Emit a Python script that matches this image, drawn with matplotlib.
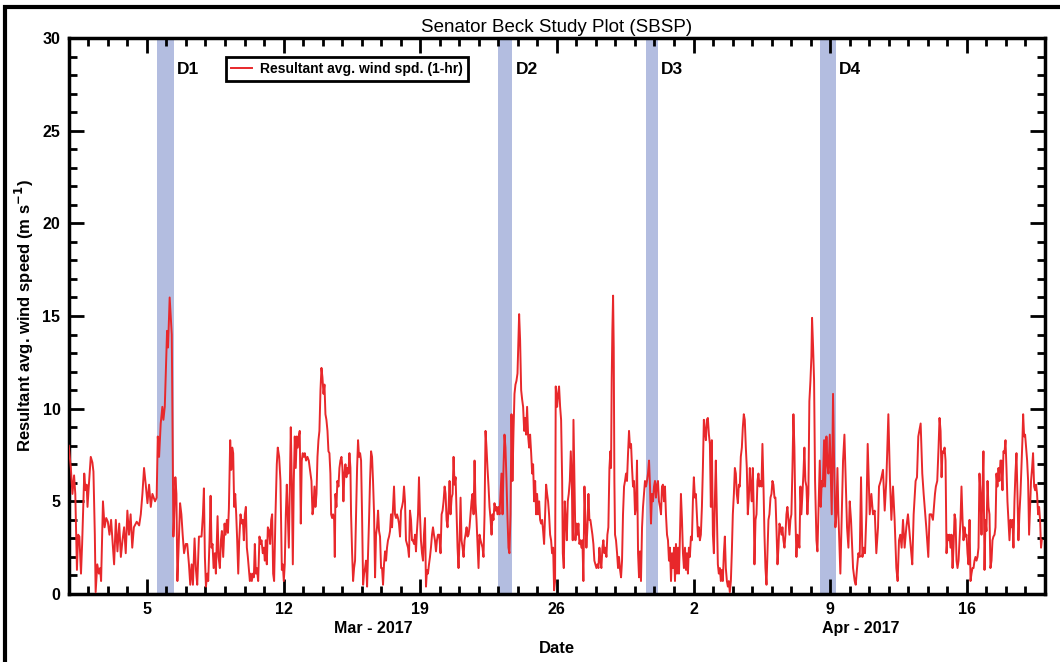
import matplotlib
matplotlib.use("Agg")
import matplotlib.pyplot as plt
import matplotlib.dates as mdates
from matplotlib.ticker import MultipleLocator, FuncFormatter, FixedLocator
from matplotlib.patches import Rectangle
import pandas as pd
import datetime as dt

plt.rcParams['font.family'] = ['Liberation Sans', 'DejaVu Sans']

# ---- data: hours since 2017-03-01 00:00 and resultant avg wind speed (m/s)
hours = [
 0, 2.5, 4.5, 6.5, 8, 10, 11.5, 13, 15, 16.4, 19, 20.5, 22, 23, 25, 27, 29, 30.3, 32, 33, 35, 37, 38.5, 39.7,
 42, 44, 46, 48, 50, 52, 54, 55.7, 57.8, 59.8, 62, 64, 66, 68, 70, 72, 74, 76, 78, 80, 83.5, 86.5, 88.5, 90.5,
 92.5, 94.6, 96.7, 98.7, 100.8, 102.8, 106, 108, 109.4, 111, 113, 115, 116.3, 118, 119.6, 120.8, 122, 123.3,
 124, 125.3, 126.6, 127.4, 128.6, 129.8, 131, 132.3, 133.5, 135, 136.8, 138.4, 140, 141.7, 143.8,
 145.6, 147.7, 149.3, 151, 152.6, 154.6, 156.3, 157.9, 160, 161.6, 163.2, 164.9, 166.1, 167.3, 168.6, 170.2,
 171.4, 173, 174.3, 175.5, 176.7, 178, 179.6, 180.8, 182.9, 184.1, 185.7, 187, 188.2, 189.8, 191.5, 192.7,
 194.3, 195.6, 196.8, 198.4, 199.7, 200.9, 202.1, 203.3, 204.6, 205.8, 207, 208.3, 209.5, 211.1, 212.8, 214,
 215.2, 216.4, 217.7, 218.9, 220.1, 221.3, 222.6, 223.8, 225, 226.3, 227.5, 228.7, 230, 231.2, 232.8, 234.4,
 235.7, 236.9, 238.5, 239.8, 241, 242.2, 243.4, 244.7, 246.3, 247.5, 248.8, 250, 251.2, 252.4, 254.1, 255.7,
 256.9, 258.6, 260.2, 261.9, 263.1, 264.3, 265.5, 266.8, 268, 269.2, 270.5, 271.7, 272.9, 274.1, 275.4, 276.6,
 277.8, 279, 280.3, 281.5, 282.7, 283.9, 285.2, 286.4, 287.6, 288.9, 290.1, 291.7, 293.4, 295, 296.2,
 298.3, 299.6, 300.8, 302, 303.2, 304.5, 305.7, 306.9, 308.1, 309.4, 310.6, 311.8, 313.1, 314.3, 315.5, 316.7,
 318, 319.2, 320.4, 321.6, 322.5, 323.7, 324.9, 326.2, 327, 327.8, 329, 330.2, 331.5, 332.7, 333.9, 335.2,
 336.4, 337.6, 338.8, 340.1, 341.3, 342.5, 343.7, 345, 346.2, 347, 348.3, 349.5, 350.7, 351.9, 353.2, 354.4,
 355.6, 356.8, 358.1, 359.3, 360.5, 361.8, 363, 364.2, 365.4, 366.7, 367.9, 369.1, 370.3, 371.6, 372.8, 374,
 375.3, 376.5, 377.7, 378.9, 380.2, 381.4, 382.6, 383.9, 385.1, 386.3, 387.5, 388.8, 390, 391.2, 392.4, 393.7,
 394.9, 396.1, 397.4, 398.6, 399.8, 401, 402.3, 403.5, 404.7, 405.9, 407.2, 408.4, 409.6, 410.9, 412.1, 413.3,
 414.5, 415.8, 417, 418.2, 419.4, 420.7, 421.9, 423.1, 424.4, 425.6, 426.8, 428, 429.3, 430.5, 431.7, 432.9,
 434.2, 435.4, 436.6, 437.9, 439.1, 440.3, 441.5, 442.8, 444, 445.2, 446.5, 447.7, 448.9, 450.1, 451.4, 452.6,
 453.8,
 455.4, 457, 458.3, 459.5, 460.7, 462, 463.2, 464.4, 465.6, 466.9, 468.1, 469.3, 470.6, 471.8, 473, 474.2,
 475.5, 476.7, 477.9, 479.1, 480.4, 481.6, 482.8, 484.1, 485.3, 486.5, 487.7, 489, 490.2, 491.4, 492.6, 493.9,
 495.1, 496.3, 497.6, 498.8, 500, 501.2, 502.5, 503.7, 504.9, 506.2, 507.4, 508.6, 509.8, 511.1, 512.3, 513.5,
 514.7, 516, 517.2, 518.4, 519.7, 520.9, 522.1, 523.3, 524.6, 525.8, 527, 528.2, 529.5, 530.7, 531.9, 533.2,
 534.4, 535.6, 536.8, 538.1, 539.3, 540.5, 541.7, 543, 544.2, 545.4, 546.7, 547.9, 549.1, 550.3, 551.6, 552.8,
 553.6, 554.8, 556.1, 557.3, 558.5, 559.8, 561, 562.2, 563.4, 564.7, 565.9, 567.1, 568.4, 569.6, 570.8, 572,
 573.3, 574.5, 575.7, 576.9, 578.2, 579.4, 580.6, 581.9, 583.1, 584.3, 585.5, 586.8, 588, 589.2, 590.4, 591.7,
 592.9, 594.1, 595.4, 596.6, 597.8, 598.6, 600.3, 601.5, 602.7, 604,
 605.2, 606.5, 607.3, 608.5, 609.7, 611, 612.2, 613.4, 614.6, 615.9, 617.1, 618.3, 619.5, 620.4, 621.6, 622.8,
 624.1, 625.3, 626.5, 627.7, 629, 630.2, 631.4, 632.6, 633.9, 635.1, 636.3, 637.6, 638.8, 640, 641.2, 642.5,
 643.7, 644.9, 646.1, 647.4, 648.6, 649.8, 651.1, 652.3, 653.5, 654.7, 656, 657.2, 658.4, 659.7, 660.9, 662.1,
 663.3, 664.6, 665.8, 666.6, 667.4, 668.2, 669.1, 669.9, 670.7, 671.5, 672.7, 674, 675.2, 676.4, 677.7, 678.9,
 680.1, 681.3, 682.6, 683.8, 685, 686.2, 687.5, 688.7, 689.9, 691.2, 692.4, 693.6, 694.8, 696.1, 697.3, 698.5,
 699.8, 701, 702.2, 703.4, 704.7, 705.9, 707.1, 708.3, 709.6, 710.8, 712, 713.3, 714.5, 715.7, 716.9, 718.2,
 719.4, 720.6, 721.8, 723.1, 724.3, 725.5, 726.8, 728, 729.2, 730.4, 731.7, 732.9, 734.1, 735.4, 736.6, 737.8,
 739, 740.3, 741.5, 742.7, 744, 745.2, 746.4, 747.6, 748.9, 750.1, 751.3, 752.5, 753.8, 755, 756.2, 757.5,
 758.7, 759.9, 761.1,
 762.3, 763.5, 764.8, 766, 767.2, 768.4, 769.7, 770.9, 772.1, 773.4, 774.6, 775.8, 777, 778.3, 779.5, 780.7,
 781.9, 783.2, 784.4, 785.6, 786.9, 788.1, 789.3, 790.5, 791.8, 793, 794.2, 795.4, 796.7, 797.9, 799.1, 800.4,
 801.6, 802.8, 804, 805.3, 806.5, 807.7, 809, 810.2, 811.4, 812.6, 813.9, 815.1, 816.3, 817.6, 818.8, 820,
 821.2, 822.5, 823.7, 824.9, 826.1, 827.4, 828.6, 829.8, 831, 832.3, 833.5, 834.7, 836, 837.2, 838.4, 839.6,
 840.9, 842.1, 842.9, 844.2, 845.4, 846.6, 847.8, 849.1, 850.3, 851.5, 852.7, 854, 855.2, 856.4, 857.7, 858.9,
 860.1, 861.3, 862.6, 863.8, 865, 866.2, 867.5, 868.7, 869.9, 871.2, 872.4, 873.6, 874.8, 876.1, 877.3, 878.5,
 879.8, 881, 882.2, 883.4, 884.7, 885.9, 887.1, 888.3, 889.6, 890.8, 892, 893.3, 894.5, 895.7, 896.9, 898.2,
 899.4, 900.6, 901.8, 903.1, 904.3, 905.5, 906.8, 908, 909.2, 910.4, 911.7, 912.9, 913.7,
 915, 916.2, 917.4, 919.1, 920.3, 921.5, 923.2, 924.4, 925.6, 926.9, 928.5, 929.7, 931.4, 932.6, 933.8, 935.5,
 936.7, 937.9, 939.5, 941.2, 942.4, 943.6, 944.9, 946.1, 948.5, 950.2, 951.8, 953.5, 955.1, 956.7, 958.4, 960,
 961.6, 964.1, 966.1, 967.4, 969, 970.6, 972.3, 973.9, 975.6, 977.2, 978.8, 980.5, 982.1, 984.6, 986.6, 988.6,
 990.7, 992.7, 994.8, 996, 998.1, 1000.9, 1003, 1005, 1007.5, 1009.5, 1011.2, 1013.2, 1015.2, 1017.3, 1018.9,
 1020.6, 1022.2, 1023.8, 1025.5, 1027.5, 1029.6, 1031.6, 1033.7, 1035.7, 1036.9, 1038.6, 1041, 1042.7, 1044.3,
 1047.2, 1049.2, 1050.9, 1052.5, 1054.1, 1056.6, 1058.2, 1060.3, 1062.3, 1064.8,
 1065.9, 1067.6, 1069.2, 1070.4, 1071.7, 1072.9, 1074.1, 1075.4, 1076.6, 1077.8, 1079, 1080.3, 1081.5, 1082.7,
 1083.9, 1085.2, 1086.4, 1087.6, 1088.9, 1090.1, 1091.3, 1092.5, 1093.8, 1095, 1096.2, 1097.4, 1098.7, 1099.9,
 1101.1, 1102.4, 1103.6, 1104.8, 1106, 1107.3, 1108.5, 1109.7, 1110.9, 1112.2, 1113.4, 1114.6, 1115.9, 1117.1,
 1118.3, 1119.5, 1120.8, 1122, 1123.2, 1124.4, 1125.7, 1126.9, 1128.1, 1129.4, 1130.6, 1131.8, 1133, 1134.3,
 1135.5, 1136.7, 1138, 1139.2, 1140.4, 1141.6, 1142.9, 1144.1, 1145.3, 1146.5, 1147.8, 1149, 1150.2, 1151.5,
 1152.7, 1153.9, 1155.1, 1156.4, 1157.6, 1158.8, 1160, 1161.3, 1162.5, 1163.7, 1165, 1166.2, 1167.4, 1168.6,
 1169.9, 1171.1, 1172.3, 1173.2, 1174.4, 1175.6, 1176.8, 1178.1, 1179.3, 1180.5, 1181.7, 1182.9, 1184.2,
 1185.4, 1186.7, 1187.9, 1189.1, 1190.3, 1191.6, 1192.8, 1194, 1195.2, 1196.1,
]

wind = [
 8.0, 6.8, 5.4, 6.4, 5.4, 1.3, 3.2, 3.1, 1.1, 2.7, 6.5, 5.6, 5.9, 4.7, 6.1, 7.4, 7.1, 6.6, 3.2, 0.1, 1.6, 1.1, 1.4, 0.7,
 5.0, 3.6, 4.1, 3.9, 3.2, 4.0, 2.7, 1.6, 4.0, 2.3, 3.8, 2.0, 2.9, 3.6, 2.2, 4.5, 3.2, 4.3, 2.5, 3.6, 3.9, 3.7, 4.3, 5.4,
 6.8, 5.9, 4.9, 5.9, 4.7, 5.4, 5.0, 5.2, 8.5, 7.4, 9.2, 10.1, 9.4, 10.1, 12.4, 14.2, 13.3, 15.1,
 16.0, 15.0, 14.0, 9.7, 3.1, 4.5, 6.3, 5.4, 0.7, 2.5, 4.9, 4.3, 3.2, 2.2, 2.7,
 2.7, 1.6, 0.5, 1.6, 0.5, 3.0, 1.3, 0.5, 3.1, 3.1, 3.1, 4.3, 5.7, 2.0, 0.4, 1.1,
 0.7, 2.9, 5.3, 2.5, 2.7, 1.4, 2.2, 1.1, 4.2, 2.0, 1.4, 2.9, 3.4, 2.0, 3.8, 3.2,
 4.0, 3.3, 4.6, 8.3, 6.7, 7.9, 7.6, 4.7, 5.4, 4.3, 2.9, 1.1, 2.9, 4.3, 3.8, 4.0,
 2.9, 4.3, 4.7, 2.5, 2.0, 1.4, 0.7, 1.1, 0.7, 1.1, 0.9, 2.7, 1.1, 1.4, 0.7, 3.1,
 2.7, 2.9, 2.2, 2.5, 1.8, 2.9, 1.6, 3.6, 3.4, 2.7, 4.0, 4.3, 1.1, 0.7, 4.3, 7.0,
 7.9, 7.4, 6.1, 1.3, 1.6, 0.7, 1.6, 4.3, 5.9, 4.3, 2.5, 5.8, 9.0, 6.1, 1.6, 6.1,
 8.5, 6.8, 8.5, 7.9, 8.5, 8.8, 3.8, 7.2, 7.6, 7.4, 7.6, 7.2, 7.4, 7.2, 6.8,
 6.1, 4.3, 4.7, 5.8, 4.7, 5.4, 7.4, 8.3, 8.8, 11.0, 12.2, 11.7, 10.8, 11.3, 9.7, 9.4,
 8.8, 7.7, 7.6, 6.5, 4.3, 4.1, 4.3, 4.0, 2.0, 5.4, 4.7, 6.1, 5.8, 6.8, 7.2, 7.4,
 6.8, 5.0, 6.5, 7.0, 6.3, 6.8, 6.5, 7.6, 6.8, 4.3, 2.2, 0.7, 1.4, 1.8, 4.3, 6.8,
 8.3, 7.4, 7.6, 7.2, 4.3, 0.5, 1.1, 1.4, 1.8, 0.4, 2.2, 4.0, 6.1, 7.7, 7.4, 6.1,
 4.3, 0.9, 3.2, 3.6, 4.5, 3.4, 3.1, 1.4, 1.4, 0.5, 1.6, 2.3, 1.8, 2.5, 2.9, 3.1,
 3.4, 4.3, 3.6, 4.7, 5.8, 4.3, 4.1, 4.3, 4.1, 3.8, 3.1, 4.5, 4.7, 5.0, 5.8, 5.0,
 2.9, 2.7, 2.5, 2.0, 4.5, 4.0, 2.9, 2.9, 2.7, 3.2, 2.3, 3.4, 4.3, 6.3, 4.3, 2.9,
 2.2, 1.8, 3.2, 4.1, 0.4, 1.3, 1.1, 1.6, 2.0, 2.5, 3.2, 3.6, 3.2, 2.9, 2.3, 2.9,
 3.2,
 3.2, 2.2, 4.3, 4.5, 5.0, 5.8, 5.4, 4.0, 3.6, 4.7, 6.1, 4.3, 5.2, 5.4, 7.4, 5.9,
 6.3, 4.3, 2.5, 1.4, 2.9, 5.2, 2.9, 2.5, 2.0, 2.9, 3.2, 3.6, 3.1, 3.2, 3.6, 4.3,
 5.0, 5.4, 4.3, 7.2, 4.9, 4.0, 2.7, 1.4, 3.2, 2.9, 2.7, 2.5, 2.0, 4.3, 8.8, 7.9,
 6.8, 5.8, 4.7, 4.1, 3.2, 4.3, 4.0, 4.9, 4.5, 4.7, 4.3, 4.7, 4.3, 5.4, 6.5, 4.3,
 6.8, 8.6, 7.9, 6.1, 4.1, 2.5, 2.2, 4.3, 9.7, 6.1, 8.8, 10.8, 11.3, 11.5, 11.9, 13.7,
 15.1, 13.7, 11.0, 10.5, 10.1, 8.8, 9.5, 8.6, 10.1, 8.5, 7.9, 8.6, 7.6, 6.5, 7.0, 5.0,
 6.1, 4.3, 5.4, 4.3, 5.0, 4.0, 3.8, 4.0, 3.4, 2.7, 4.3, 5.9, 5.4, 5.0, 4.3, 3.2,
 2.9, 2.2, 2.5, 0.2, 0.7, 11.2, 10.1, 10.8, 11.2, 10.1,
 9.4, 6.1, 2.2, 1.4, 5.0, 4.0, 2.9, 5.0, 5.4, 6.1, 7.7, 6.1, 2.9, 9.4, 6.1, 2.9,
 3.8, 3.2, 3.8, 2.7, 2.9, 2.5, 2.9, 0.7, 5.8, 4.0, 2.5, 3.6, 5.4, 4.0, 4.0, 3.6,
 3.2, 2.7, 1.8, 1.6, 1.4, 1.6, 1.4, 2.5, 1.8, 1.4, 2.5, 2.9, 2.2, 2.5, 2.0, 3.2,
 3.6, 6.8, 7.7, 6.8, 11.5, 14.2, 16.1, 13.3, 6.1, 3.2, 2.9, 2.2, 1.4, 2.0, 1.3, 0.9,
 1.8, 4.3, 5.8, 6.1, 6.5, 6.1, 7.6, 8.8, 7.9, 8.1, 6.8, 5.8, 6.1, 4.3, 4.7, 7.2,
 2.2, 0.9, 2.3, 0.7, 3.6, 4.7, 5.4, 6.1, 5.8, 6.1, 6.5, 7.2, 5.8, 3.8, 5.4, 5.0,
 5.8, 6.1, 5.2, 5.9, 6.1, 5.0, 4.7, 4.3, 5.8, 5.9, 5.0, 5.8, 4.3, 3.2, 2.9, 1.8,
 2.5, 0.7, 2.2, 1.4, 2.5, 0.7, 2.7, 1.1, 2.5, 1.1, 3.1, 5.4, 4.0, 2.2, 1.4, 2.5,
 1.3, 2.2, 1.1,
 2.5, 2.0, 3.1, 2.9, 5.0, 6.3, 5.2, 5.4, 4.3, 3.1, 3.6, 2.9, 3.2, 4.7, 6.8, 9.4,
 8.8, 8.3, 9.4, 9.5, 8.6, 8.1, 4.7, 8.3, 3.2, 2.2, 5.0, 7.2, 4.3, 1.6, 1.1, 1.4,
 0.7, 1.3, 0.7, 2.2, 3.1, 1.4, 0.7, 0.4, 0.7, 0.1, 0.7, 2.3, 4.3, 5.4, 6.8, 6.5,
 5.4, 4.9, 5.9, 5.8, 7.4, 7.9, 9.0, 9.7, 9.4, 7.9, 6.8, 4.3, 5.2, 6.8, 5.8, 5.0,
 6.8, 4.3, 1.6, 4.0, 4.3, 6.1, 6.5, 5.8, 6.1, 5.8, 8.1, 5.8, 3.2, 1.4, 0.5, 2.2,
 4.0, 4.3, 5.2, 5.4, 6.1, 5.9, 5.2, 5.2, 3.6, 1.6, 2.5, 3.8, 3.6, 3.2, 3.6, 2.9,
 2.5, 3.2, 4.3, 4.7, 4.0, 3.2, 4.0, 4.3, 6.8, 9.7, 7.9, 4.0, 2.0, 3.2, 2.9, 2.5,
 5.8, 4.3, 5.4, 6.5, 7.9, 6.1, 5.8, 4.3, 5.4, 10.4, 11.5, 12.8, 14.9,
 13.3, 11.5, 6.1, 2.9, 2.3, 4.3, 7.2, 4.7, 6.1, 5.8, 8.3, 5.8, 8.5, 7.0, 6.5, 8.6,
 6.5, 4.3, 10.8, 6.1, 3.6, 4.3, 6.8, 4.3, 1.1, 4.3, 7.2, 8.6, 6.1, 3.6, 2.5, 5.0,
 4.0, 1.4, 0.7, 0.5, 1.4, 2.2, 2.0, 6.3, 2.0, 2.5, 2.2, 4.3, 8.1, 4.3, 5.4, 4.3,
 4.5, 2.2, 3.6, 5.8, 6.1, 6.7, 4.5, 6.1, 9.7, 6.1, 4.0, 5.8, 4.0, 1.4, 0.7,
 2.9, 3.2, 2.5, 4.0, 2.5, 3.6, 4.3, 3.2, 2.2, 1.6, 4.3, 6.1, 6.3, 8.5,
 9.2, 6.5, 5.4, 4.5, 3.6, 2.0, 4.3, 4.3, 4.0, 5.4,
 5.8, 6.1, 7.9, 9.5, 8.8, 6.3, 7.7, 7.6, 7.9, 7.2, 2.2, 3.2, 2.9, 3.2,
 2.5, 3.2, 1.4, 2.5, 4.3, 4.0, 1.8, 1.4, 1.8, 2.9, 4.0, 5.8, 4.0, 2.9,
 3.6, 3.1, 3.2, 2.2, 1.6, 4.0, 0.7, 1.1, 1.4, 1.4, 1.8, 2.0, 1.8, 2.0,
 2.5, 6.5, 5.4, 3.2, 5.6, 7.7, 1.3, 4.0, 3.4, 6.1, 4.7, 4.3, 1.4, 1.8,
 2.9, 3.1, 3.2, 3.6, 6.5, 5.8, 6.8, 6.1, 7.2, 7.2, 5.6, 7.7, 7.6, 8.3,
 6.8, 5.0, 4.0, 2.9, 4.0, 3.6, 4.0, 2.5, 5.0, 6.5, 7.6, 5.4, 2.9, 4.3,
 5.4, 6.8, 8.3, 9.7, 8.5, 8.6, 7.9, 7.2, 6.1, 3.2, 4.7, 6.1, 6.8,
 7.6, 5.8, 5.6, 5.9, 5.4, 4.3, 4.7, 4.0, 2.5, 2.9,
]

start = dt.datetime(2017, 3, 1)
end = dt.datetime(2017, 4, 20)
first_major = dt.datetime(2017, 3, 5)

event_labels = ['D1', 'D2', 'D3', 'D4']
event_start = ['2017-03-05 13:00', '2017-03-23 00:00', '2017-03-30 14:00', '2017-04-08 12:00']
event_end = ['2017-03-06 09:00', '2017-03-23 17:00', '2017-03-31 04:00', '2017-04-09 07:00']

month_labels = ['Mar - 2017', 'Apr - 2017']
month_label_pos = ['2017-03-16 14:00', '2017-04-10 14:00']

# ---- figure
times = pd.Timestamp(start) + pd.to_timedelta(hours, unit='h')

fig = plt.figure(figsize=(10.6, 6.62), dpi=100)
ax = fig.add_axes([0.0649, 0.1027, 0.9209, 0.8399])

band_color = '#b3bde0'
for lab, s, e in zip(event_labels, event_start, event_end):
    s = pd.Timestamp(s); e = pd.Timestamp(e)
    ax.axvspan(s, e, color=band_color, lw=0, zorder=1)
    ax.text(e + pd.Timedelta(hours=4), 28.3, lab, fontsize=12.5, fontweight='bold',
            ha='left', va='center', zorder=4)

ax.plot(times, wind, color='#e8282b', lw=1.4, zorder=3,
        label='Resultant avg. wind spd. (1-hr)')

ax.set_xlim(start, end)
ax.set_ylim(0, 30)

major_dates = pd.date_range(first_major, end, freq='7D')
ax.xaxis.set_major_locator(FixedLocator(mdates.date2num(major_dates.to_pydatetime())))
ax.xaxis.set_minor_locator(mdates.DayLocator())
ax.xaxis.set_major_formatter(FuncFormatter(lambda x, p: str(mdates.num2date(x).day)))
ax.yaxis.set_major_locator(MultipleLocator(5))
ax.yaxis.set_minor_locator(MultipleLocator(1))

ax.tick_params(which='both', direction='in', top=True, right=True, width=2)
ax.tick_params(which='major', length=11, labelsize=11.5, pad=6)
ax.tick_params(which='minor', length=5.5)
for t in ax.get_xticklabels() + ax.get_yticklabels():
    t.set_fontweight('bold')
for sp in ax.spines.values():
    sp.set_linewidth(2.5)

for lab, pos in zip(month_labels, month_label_pos):
    ax.text(pd.Timestamp(pos), -0.062, lab, transform=ax.get_xaxis_transform(),
            ha='center', va='center', fontsize=11.5, fontweight='bold')

ax.set_xlabel('Date', fontsize=12, fontweight='bold', labelpad=17)
ax.set_ylabel('Resultant avg. wind speed (m s$^{\\mathbf{-1}}$)', fontsize=12,
              fontweight='bold', labelpad=5)
ax.set_title('Senator Beck Study Plot (SBSP)', fontsize=13.5, pad=4)

leg = ax.legend(loc='upper left', bbox_to_anchor=(0.161, 0.966), borderaxespad=0,
                fancybox=False, framealpha=1, edgecolor='black', handlelength=1.5,
                prop={'weight': 'bold', 'size': 10}, borderpad=0.35, handletextpad=0.6)
leg.get_frame().set_linewidth(2)

fig.patches.append(Rectangle((5 / 1060, -0.05), 1.2, 1 - 7 / 662 + 0.05,
                             transform=fig.transFigure, fill=False,
                             edgecolor='black', lw=3))

fig.savefig('out.png', dpi=100)
